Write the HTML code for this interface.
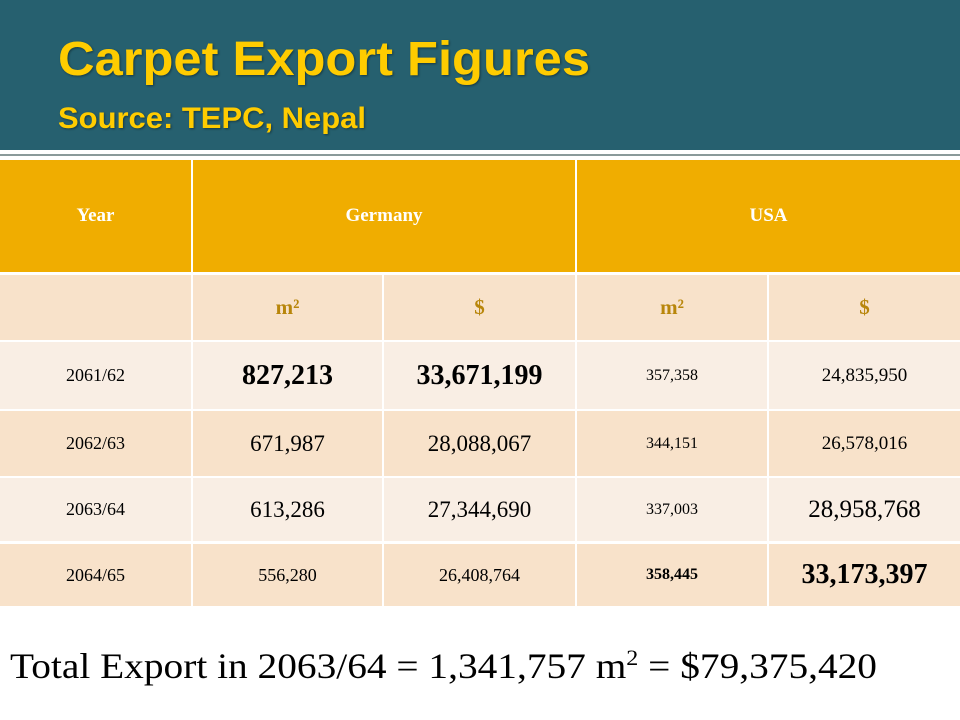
<!DOCTYPE html>
<html><head><meta charset="utf-8">
<style>
body{margin:0;width:960px;height:720px;position:relative;background:#fff;overflow:hidden;font-family:"Liberation Serif",serif}
.hdr{position:absolute;left:0;top:0;width:960px;height:150px;background:#26606f}
.ln1{position:absolute;left:0;top:154px;width:960px;height:2px;background:#8a9a9a}
.t{position:absolute;white-space:nowrap;transform-origin:0 0;color:#ffcc00;font-family:"Liberation Sans",sans-serif;font-weight:bold;text-shadow:1px 1px 2px rgba(0,0,0,.4)}
.c{position:absolute;display:flex;align-items:center;justify-content:center;font-family:"Liberation Serif",serif;color:#000;font-size:18px}
.h{background:#f0ad00;color:#fff;font-weight:bold;font-size:19px}
.s{background:#f8e2ca;color:#b8860b;font-weight:bold;font-size:21px}
.l{background:#f9eee4}.d{background:#f8e2ca}
.big{font-size:26px}.bb{font-size:28px;font-weight:bold}
</style></head><body>
<div class="hdr"></div>
<div class="ln1"></div>
<div class="t fit" data-w="532" style="left:58px;top:32px;font-size:48px">Carpet Export Figures</div>
<div class="t fit" data-w="308" style="left:58px;top:102px;font-size:30px">Source: TEPC, Nepal</div>

<div class="c h" style="left:0;top:160px;width:191px;height:112px">Year</div>
<div class="c h" style="left:193px;top:160px;width:382px;height:112px">Germany</div>
<div class="c h" style="left:577px;top:160px;width:383px;height:112px">USA</div>

<div class="c s" style="left:0;top:275px;width:191px;height:65px"></div>
<div class="c s" style="left:193px;top:275px;width:189px;height:65px">m²</div>
<div class="c s" style="left:384px;top:275px;width:191px;height:65px">$</div>
<div class="c s" style="left:577px;top:275px;width:190px;height:65px">m²</div>
<div class="c s" style="left:769px;top:275px;width:191px;height:65px">$</div>

<div class="c l" style="left:0;top:342px;width:191px;height:67px">2061/62</div>
<div class="c l bb" style="left:193px;top:342px;width:189px;height:67px">827,213</div>
<div class="c l bb" style="left:384px;top:342px;width:191px;height:67px">33,671,199</div>
<div class="c l" style="left:577px;top:342px;width:190px;height:67px;font-size:16px">357,358</div>
<div class="c l" style="left:769px;top:342px;width:191px;height:67px;font-size:19px">24,835,950</div>

<div class="c d" style="left:0;top:411px;width:191px;height:65px">2062/63</div>
<div class="c d" style="left:193px;top:411px;width:189px;height:65px;font-size:23px">671,987</div>
<div class="c d" style="left:384px;top:411px;width:191px;height:65px;font-size:23px">28,088,067</div>
<div class="c d" style="left:577px;top:411px;width:190px;height:65px;font-size:16px">344,151</div>
<div class="c d" style="left:769px;top:411px;width:191px;height:65px;font-size:19px">26,578,016</div>

<div class="c l" style="left:0;top:478px;width:191px;height:63px">2063/64</div>
<div class="c l" style="left:193px;top:478px;width:189px;height:63px;font-size:23px">613,286</div>
<div class="c l" style="left:384px;top:478px;width:191px;height:63px;font-size:23px">27,344,690</div>
<div class="c l" style="left:577px;top:478px;width:190px;height:63px;font-size:16px">337,003</div>
<div class="c l" style="left:769px;top:478px;width:191px;height:63px;font-size:25px">28,958,768</div>

<div class="c d" style="left:0;top:544px;width:191px;height:62px">2064/65</div>
<div class="c d" style="left:193px;top:544px;width:189px;height:62px">556,280</div>
<div class="c d" style="left:384px;top:544px;width:191px;height:62px">26,408,764</div>
<div class="c d" style="left:577px;top:544px;width:190px;height:62px;font-size:16px;font-weight:bold">358,445</div>
<div class="c d bb" style="left:769px;top:544px;width:191px;height:62px">33,173,397</div>

<div class="t fit" data-w="867" style="left:10px;top:645px;font-size:36px;color:#000;font-family:'Liberation Serif',serif;font-weight:normal;text-shadow:none">Total Export in 2063/64 = 1,341,757 m<sup style="font-size:22px">2</sup> = $79,375,420</div>
<script>
document.querySelectorAll('.fit').forEach(function(e){
  var w=e.getBoundingClientRect().width, t=+e.getAttribute('data-w');
  if(w>0) e.style.transform='scaleX('+(t/w)+')';
});
</script>
</body></html>
